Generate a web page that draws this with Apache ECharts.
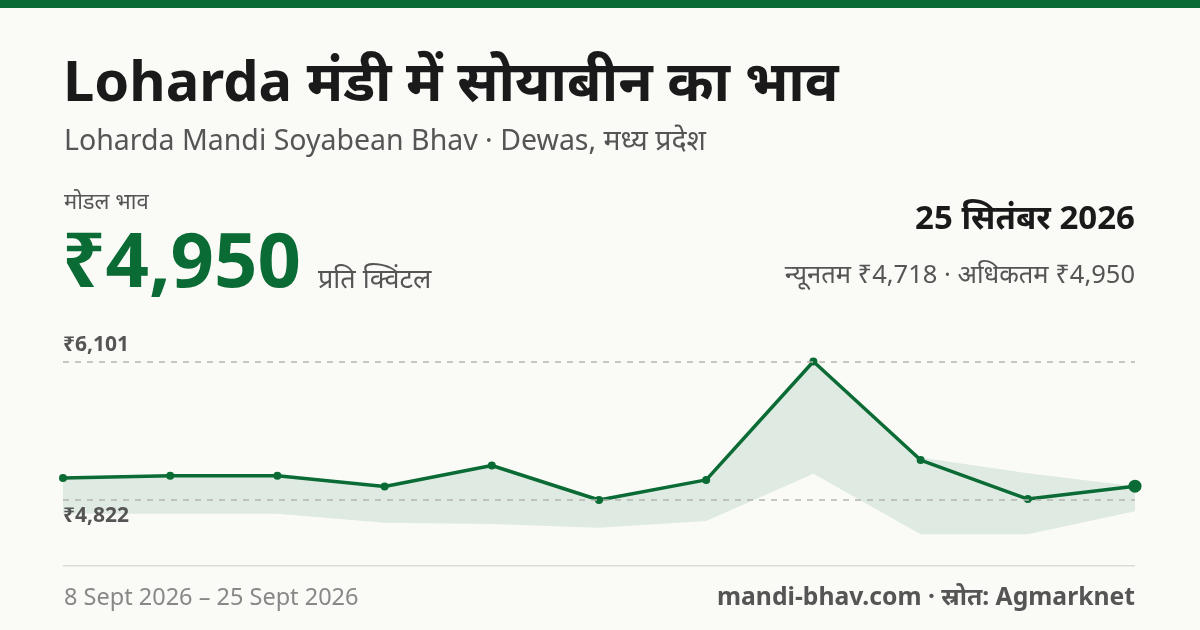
<!DOCTYPE html>
<html>
<head>
<meta charset="utf-8">
<script src="https://cdn.jsdelivr.net/npm/echarts@6/dist/echarts.min.js"></script>
<style>
  html, body { margin: 0; padding: 0; background: #fafbf7; }
  #chart { width: 1200px; height: 630px; }
</style>
</head>
<body>
<div id="chart"></div>
<script>
// 8 Sept .. 25 Sept 2026, one point per trading day
const dates = ['8 Sept', '9 Sept', '10 Sept', '11 Sept', '12 Sept', '15 Sept', '16 Sept', '17 Sept', '18 Sept', '22 Sept', '25 Sept']
const modalPrice = [5025, 5046, 5046, 4947, 5141, 4822, 5008, 6101, 5191, 4831, 4950]
const minPrice = [4695, 4695, 4695, 4611, 4600, 4566, 4628, 5064, 4505, 4505, 4718]
const maxPrice = [5025, 5046, 5046, 4947, 5141, 4822, 5008, 6101, 5215, 5070, 4950]
const refLines = [6101, 4822]

const green = '#0b6b35'
const font = "'Noto Sans', 'Noto Sans CJK SC', sans-serif"
const fmt = v => '₹' + v.toLocaleString('en-IN')

// small helper for the header/footer texts
function txt(x, y, text, size, color, weight, align) {
  return {
    type: 'text',
    style: {
      x: x, y: y, text: text, fill: color,
      font: (weight || 'normal') + ' ' + size + 'px ' + font,
      align: align || 'left', verticalAlign: 'middle'
    }
  }
}

const myChart = echarts.init(document.getElementById('chart'))
const last = modalPrice.length - 1

myChart.setOption({
  backgroundColor: '#fafbf7',
  animation: false,
  textStyle: { fontFamily: font },
  grid: { left: 63, right: 65, top: 340, height: 205.7 },
  xAxis: {
    type: 'category', data: dates, boundaryGap: false,
    axisLine: { show: false }, axisTick: { show: false }, axisLabel: { show: false }
  },
  yAxis: {
    type: 'value', min: 4400, max: 6300,
    splitLine: { show: false }, axisLabel: { show: false }
  },
  graphic: [
    { type: 'rect', shape: { x: 0, y: 0, width: 1200, height: 8 }, style: { fill: green } },
    txt(63, 85, 'Loharda मंडी में सोयाबीन का भाव', 56, '#1a1a1a', 'bold'),
    txt(64, 142, 'Loharda Mandi Soyabean Bhav · Dewas, मध्य प्रदेश', 28.5, '#555'),
    txt(64, 203, 'मोडल भाव', 22, '#555'),
    txt(62, 265, fmt(modalPrice[last]), 76, green, 'bold'),
    txt(318, 280, 'प्रति क्विंटल', 27, '#555'),
    txt(1135, 220, '25 सितंबर 2026', 33, '#1a1a1a', 'bold', 'right'),
    txt(1135, 276, 'न्यूनतम ' + fmt(4718) + ' · अधिकतम ' + fmt(4950), 25.5, '#555', 'normal', 'right'),
    { type: 'rect', shape: { x: 63, y: 565, width: 1072, height: 1.5 }, style: { fill: '#dcdcd6' } },
    txt(64, 598, '8 Sept 2026 – 25 Sept 2026', 23.5, '#888'),
    txt(1135, 598, 'mandi-bhav.com · स्रोत: Agmarknet', 24.7, '#555', 'bold', 'right')
  ],
  series: [
    {
      type: 'line', stack: 'band', data: minPrice, symbol: 'none',
      lineStyle: { opacity: 0 }
    },
    {
      type: 'line', stack: 'band', data: maxPrice.map((v, i) => v - minPrice[i]), symbol: 'none',
      lineStyle: { opacity: 0 }, areaStyle: { color: '#dfeae2', opacity: 1 }
    },
    {
      type: 'line', data: modalPrice.map((v, i) => i === last ? { value: v, symbolSize: 13 } : v),
      symbol: 'circle', symbolSize: 8,
      lineStyle: { color: green, width: 3.5 }, itemStyle: { color: green },
      markLine: {
        silent: true, symbol: 'none',
        lineStyle: { color: '#b5b5b0', type: [6, 6], width: 1.5 },
        data: refLines.map((v, i) => ({
          yAxis: v,
          label: {
            formatter: fmt(v), position: i === 0 ? 'insideStartTop' : 'insideStartBottom',
            distance: [0, 6], color: '#555', fontWeight: 'bold', fontSize: 21, fontFamily: font
          }
        }))
      }
    }
  ]
})
</script>
</body>
</html>
